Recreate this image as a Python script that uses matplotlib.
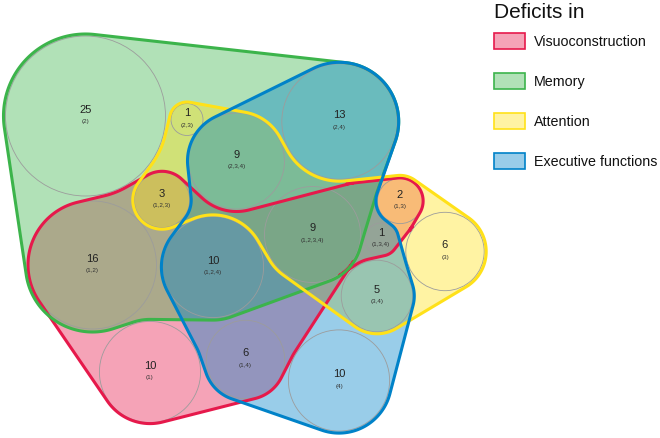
import numpy as np
import matplotlib
matplotlib.use("Agg")
import matplotlib.pyplot as plt
from matplotlib.patches import Polygon, Circle, Rectangle
from matplotlib.colors import to_rgba

plt.rcParams['font.family'] = ['Liberation Sans', 'DejaVu Sans']

# --- data -------------------------------------------------------------
set_names = ['Visuoconstruction', 'Memory', 'Attention', 'Executive functions']
set_colors = ['#e6194b', '#3cb44b', '#ffe119', '#0082c8']

groups = ['2', '2,3', '2,3,4', '2,4', '1,2,3', '1,2', '1,2,4', '1,2,3,4',
          '1,3', '1,3,4', '3', '3,4', '4', '1,4', '1']
counts = [25, 1, 9, 13, 3, 16, 10, 9, 2, 1, 6, 5, 10, 6, 10]

# --- layout (pixels, y down) ----------------------------------------
centres = {
    '2': (85.5, 117), '2,3': (187, 120.5), '2,3,4': (236.5, 162),
    '2,4': (339.5, 122.5), '1,2,3': (162, 201), '1,2': (92.5, 266),
    '1,2,4': (213, 268), '1,2,3,4': (312.5, 235.5), '1,3': (400, 202),
    '1,3,4': (381, 240), '3': (445, 252.5), '3,4': (377, 297),
    '4': (339, 381.5), '1,4': (245.5, 360.5), '1': (150, 373),
}

# outline of each set: circles touched in clockwise order,
# +1 = wraps a member circle, -1 = bends round an outside circle, gap in px
bands = [
    [('1,2', 1, 0.5), ('2', -1, 2), ('1,2,3', 1, 1), ('2,3,4', -1, 2.5),
     ('2,4', -1, 5), ('1,3', 1, 0.5), ('3', -1, 2), ('1,3,4', 1, 1),
     ('3,4', -1, 2), ('1,2,3,4', 1, 1), ('4', -1, 2), ('1,4', 1, 1),
     ('1', 1, 1)],
    [('2', 1, 2), ('2,4', 1, 1.5), ('1,3', -1, 2), ('1,3,4', -1, 1.5),
     ('1,2,3,4', 1, 1.5), ('1,2,4', 1, 2.5), ('1', -1, 2), ('1,2', 1, 3)],
    [('2,3', 1, 1.5), ('2,3,4', 1, 1.5), ('2,4', -1, 2), ('1,3', 1, 3),
     ('3', 1, 2), ('3,4', 1, 2), ('1,2,3,4', 1, 2), ('1,2,4', -1, 1.5),
     ('1,2,3', 1, 1.5), ('2', -1, 2)],
    [('2,4', 1, 1.5), ('1,3', -1, 1.5), ('1,3,4', 1, 1.5), ('3', -1, 1.5),
     ('3,4', 1, 1.5), ('4', 1, 2), ('1,4', 1, 2.5), ('1', -1, 2),
     ('1,2,4', 1, 1), ('1,2,3', -1, 1.5), ('2,3,4', 1, 1)],
]


def radius(g):
    return 16 * np.sqrt(counts[groups.index(g)])


def band_outline(seq):
    cs = []
    for g, side, gap in seq:
        cs.append((np.array(centres[g], float), side * (radius(g) + gap)))
    n = len(cs)
    normals = []
    for i in range(n):
        a, ra = cs[i]
        b, rb = cs[(i + 1) % n]
        d = b - a
        L = np.hypot(*d)
        u = d / L
        v = np.array([-u[1], u[0]])
        al = np.clip((ra - rb) / L, -1, 1)
        be = -np.sqrt(1 - al ** 2)
        normals.append(al * u + be * v)
    pts = []
    for i in range(n):
        c, r = cs[i]
        p_in = np.arctan2(normals[i - 1][1], normals[i - 1][0])
        p_out = np.arctan2(normals[i][1], normals[i][0])
        if r > 0:
            sweep = (p_out - p_in) % (2 * np.pi)
            if sweep > 1.6 * np.pi:
                sweep -= 2 * np.pi
        else:
            sweep = -((p_in - p_out) % (2 * np.pi))
            if sweep < -1.6 * np.pi:
                sweep += 2 * np.pi
        t = np.linspace(p_in, p_in + sweep, int(abs(sweep * r) / 1.5) + 2)
        pts.append(np.column_stack([c[0] + r * np.cos(t), c[1] + r * np.sin(t)]))
    return np.vstack(pts)


fig = plt.figure(figsize=(6.6, 4.39), dpi=100)
ax = fig.add_axes([0, 0, 1, 1])
ax.set_xlim(0, 660)
ax.set_ylim(439, 0)
ax.axis('off')

outlines = [band_outline(seq) for seq in bands]

for pts, col in zip(outlines, set_colors):
    ax.add_patch(Polygon(pts, closed=True, facecolor=to_rgba(col, 0.4),
                         edgecolor='none', zorder=1))

for g, n in zip(groups, counts):
    cx, cy = centres[g]
    ax.add_patch(Circle((cx, cy), radius(g), fill=False, edgecolor='#9c9c9c',
                        lw=0.6, zorder=2))
    ax.text(cx, cy - 7, str(n), ha='center', va='center', fontsize=8,
            color='#222222', zorder=6)
    ax.text(cx, cy + 5, '(' + g + ')', ha='center', va='center', fontsize=4.5,
            color='#333333', zorder=6)

for k in [1, 0, 2, 3]:
    ax.add_patch(Polygon(outlines[k], closed=True, fill=False,
                         edgecolor=set_colors[k], lw=2.2, joinstyle='round',
                         zorder=3 + k * 0.1))

# legend
ax.text(494, 12, 'Deficits in', fontsize=15, ha='left', va='center', color='#111111')
for i, (name, col) in enumerate(zip(set_names, set_colors)):
    y = 42 + 40 * i
    ax.add_patch(Rectangle((494, y - 8), 31, 16, facecolor=to_rgba(col, 0.4),
                           edgecolor=col, lw=1.2))
    ax.text(534, y, name, fontsize=10.3, ha='left', va='center', color='#111111')

fig.savefig('out.png', dpi=100)
